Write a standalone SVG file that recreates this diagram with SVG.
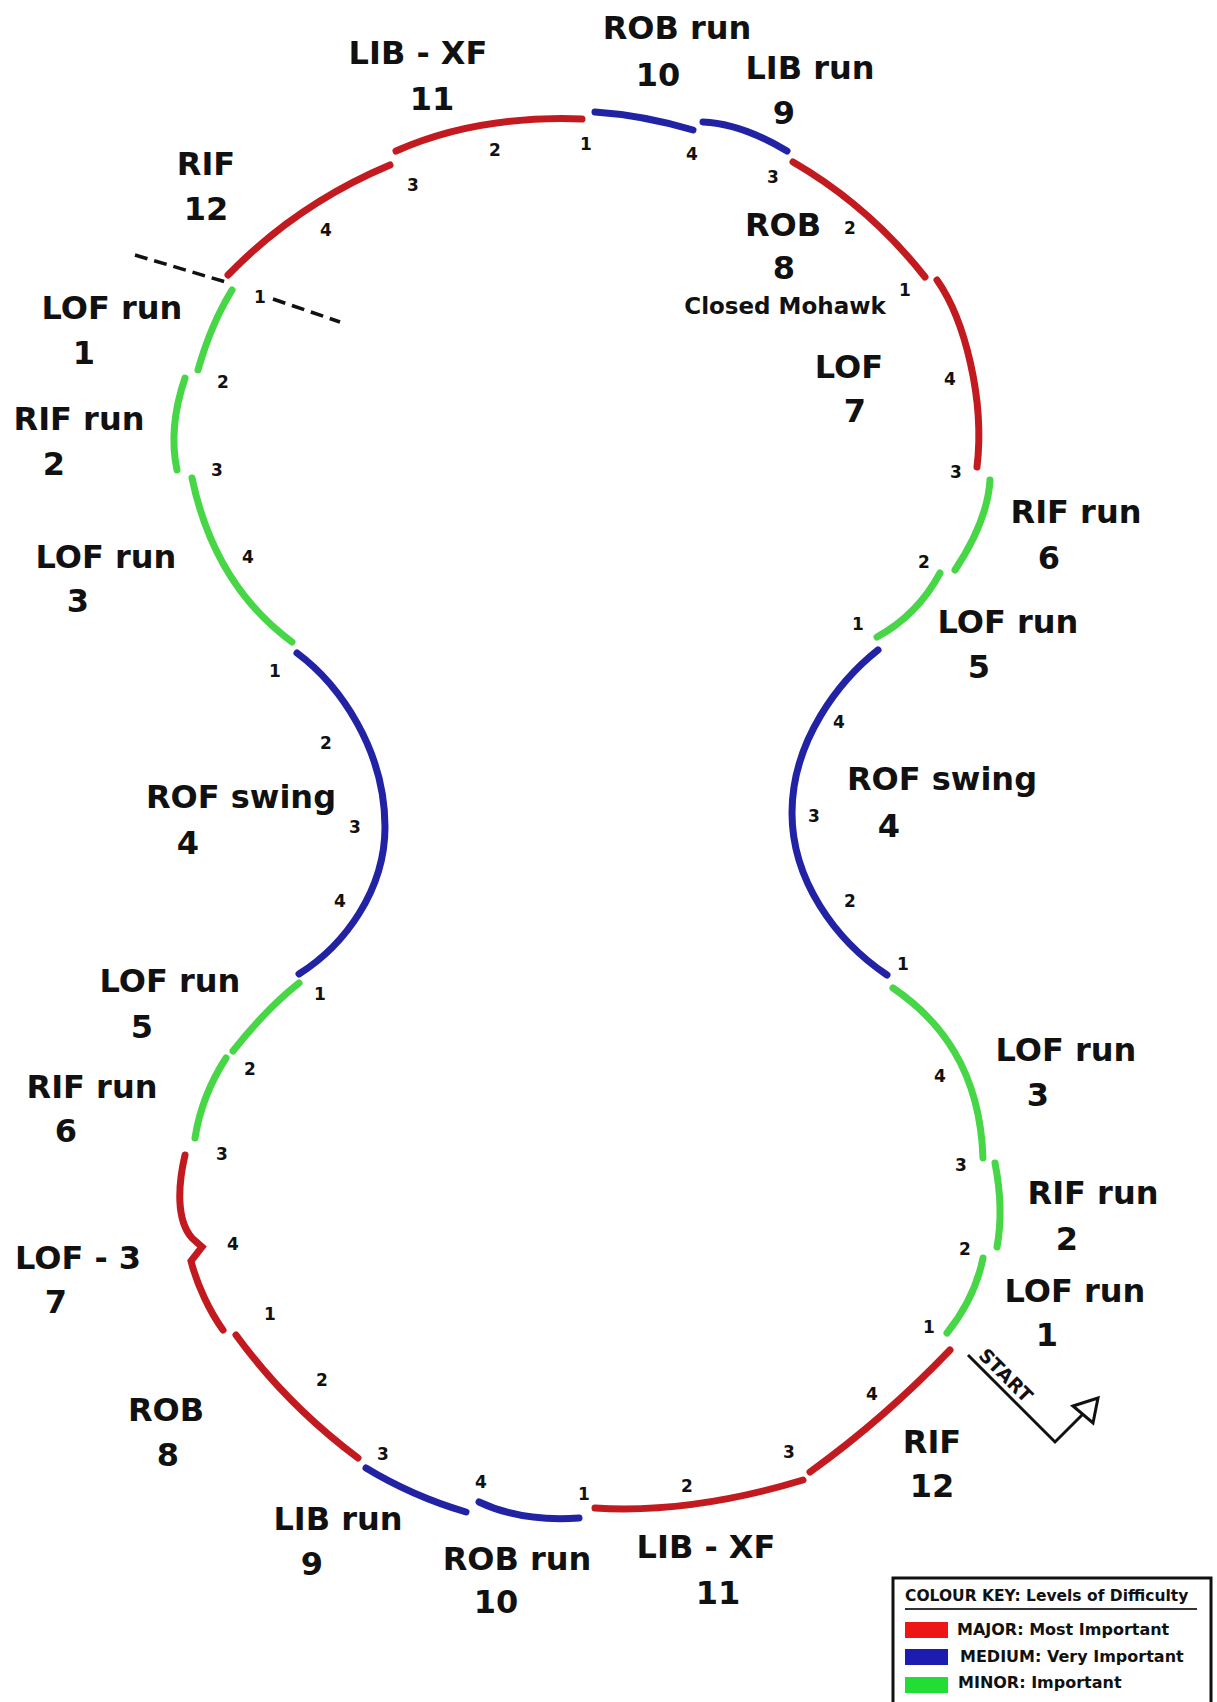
<svg xmlns="http://www.w3.org/2000/svg" width="1217" height="1702" viewBox="0 0 1217 1702">
<style>
.seg{fill:none;stroke-width:7;stroke-linecap:round}
.r{stroke:#c21a1f}.b{stroke:#2222a4}.g{stroke:#46d646}
text{font-family:"DejaVu Sans",Verdana,sans-serif;font-weight:bold;fill:#111}
.lbl{font-size:32px;text-anchor:middle}
.beat{font-size:17px;text-anchor:middle}
.sub{font-size:23px;text-anchor:middle}
.key{font-size:16px}
</style>
<rect width="1217" height="1702" fill="#ffffff"/>
<g id="track">
  <path class="seg r" d="M228,275 Q297,204 390,165"/>
  <path class="seg r" d="M396,151 Q477,115 582,119"/>
  <path class="seg b" d="M595,112 Q642,115 693,130"/>
  <path class="seg b" d="M703,122 Q741,123.5 787,151"/>
  <path class="seg r" d="M793,162 Q869,206 925,277"/>
  <path class="seg r" d="M937,280 C965,320 985,400 977,467"/>
  <path class="seg g" d="M990,480 Q987.5,521 955,570"/>
  <path class="seg g" d="M940,573 Q917.5,615 877,637"/>
  <path class="seg b" d="M878,650 C840,680 792,740 792,813 C792,880 835,940 887,975"/>
  <path class="seg g" d="M893,988 C940,1020 980,1070 983,1158"/>
  <path class="seg g" d="M995,1163 Q1004,1209 997,1247"/>
  <path class="seg g" d="M983,1258 Q975,1298 947,1333"/>
  <path class="seg r" d="M950,1350 Q885,1418 810,1472"/>
  <path class="seg r" d="M803,1480 Q691,1514 595,1508"/>
  <path class="seg b" d="M579,1518 Q521,1522 479,1502"/>
  <path class="seg b" d="M466,1512 Q412,1496 366,1468"/>
  <path class="seg r" d="M358,1458 Q287,1405 236,1335"/>
  <path class="seg r" d="M223,1330 C210,1312 197,1285 191,1261 L202,1247 L192,1238 C176,1220 178,1185 185,1155"/>
  <path class="seg g" d="M195,1138 Q201.5,1096 226,1058"/>
  <path class="seg g" d="M233,1051 Q266,1009 299,983"/>
  <path class="seg b" d="M299,974 C345,945 385,890 385,827 C385,750 340,685 297,653"/>
  <path class="seg g" d="M292,642 C235,600 205,540 192,478"/>
  <path class="seg g" d="M177,470 Q168,428 185,378"/>
  <path class="seg g" d="M198,370 Q211,324 232,290"/>
</g>
<g id="connectors">
  <g id="start-line" fill="none" stroke="#111" stroke-width="3.5" stroke-dasharray="13 7">
    <line x1="135" y1="255" x2="229" y2="283"/>
    <line x1="273" y1="299" x2="340" y2="322"/>
  </g>
  <g id="start-arrow">
    <polyline points="968,1355 1055,1442 1083,1414" fill="none" stroke="#111" stroke-width="3"/>
    <polygon points="1073,1406 1098,1398 1093,1423" fill="#fff" stroke="#111" stroke-width="3" stroke-linejoin="miter"/>
    <text transform="translate(1001,1380) rotate(45)" style="font-size:19px;text-anchor:middle">START</text>
  </g>
</g>
<g id="labels">
  <g id="n-rob-run-10-top"><text class="lbl" x="677" y="39">ROB run</text><text class="lbl" x="658" y="86">10</text></g>
  <g id="n-lib-run-9-top"><text class="lbl" x="810" y="79">LIB run</text><text class="lbl" x="784" y="124">9</text></g>
  <g id="n-lib-xf-11-top"><text class="lbl" x="418" y="64">LIB - XF</text><text class="lbl" x="432" y="110">11</text></g>
  <g id="n-rif-12-top"><text class="lbl" x="206" y="175">RIF</text><text class="lbl" x="206" y="220">12</text></g>
  <g id="n-rob-8-top"><text class="lbl" x="783" y="236">ROB</text><text class="lbl" x="784" y="279">8</text><text class="sub" x="785" y="314">Closed Mohawk</text></g>
  <g id="n-lof-run-1-left"><text class="lbl" x="112" y="319">LOF run</text><text class="lbl" x="84" y="364">1</text></g>
  <g id="n-lof-7-right"><text class="lbl" x="849" y="378">LOF</text><text class="lbl" x="855" y="422">7</text></g>
  <g id="n-rif-run-2-left"><text class="lbl" x="79" y="430">RIF run</text><text class="lbl" x="54" y="475">2</text></g>
  <g id="n-rif-run-6-right"><text class="lbl" x="1076" y="523">RIF run</text><text class="lbl" x="1049" y="569">6</text></g>
  <g id="n-lof-run-3-left"><text class="lbl" x="106" y="568">LOF run</text><text class="lbl" x="78" y="612">3</text></g>
  <g id="n-lof-run-5-right"><text class="lbl" x="1008" y="633">LOF run</text><text class="lbl" x="979" y="678">5</text></g>
  <g id="n-rof-swing-4-left"><text class="lbl" x="241" y="808">ROF swing</text><text class="lbl" x="188" y="854">4</text></g>
  <g id="n-rof-swing-4-right"><text class="lbl" x="942" y="790">ROF swing</text><text class="lbl" x="889" y="837">4</text></g>
  <g id="n-lof-run-5-left"><text class="lbl" x="170" y="992">LOF run</text><text class="lbl" x="142" y="1038">5</text></g>
  <g id="n-lof-run-3-right"><text class="lbl" x="1066" y="1061">LOF run</text><text class="lbl" x="1038" y="1106">3</text></g>
  <g id="n-rif-run-6-left"><text class="lbl" x="92" y="1098">RIF run</text><text class="lbl" x="66" y="1142">6</text></g>
  <g id="n-rif-run-2-right"><text class="lbl" x="1093" y="1204">RIF run</text><text class="lbl" x="1067" y="1250">2</text></g>
  <g id="n-lof-3-7-left"><text class="lbl" x="78" y="1269">LOF - 3</text><text class="lbl" x="56" y="1313">7</text></g>
  <g id="n-lof-run-1-right"><text class="lbl" x="1075" y="1302">LOF run</text><text class="lbl" x="1047" y="1346">1</text></g>
  <g id="n-rob-8-bottom"><text class="lbl" x="166" y="1421">ROB</text><text class="lbl" x="168" y="1466">8</text></g>
  <g id="n-rif-12-bottom"><text class="lbl" x="932" y="1453">RIF</text><text class="lbl" x="932" y="1497">12</text></g>
  <g id="n-lib-run-9-bottom"><text class="lbl" x="338" y="1530">LIB run</text><text class="lbl" x="312" y="1575">9</text></g>
  <g id="n-rob-run-10-bottom"><text class="lbl" x="517" y="1570">ROB run</text><text class="lbl" x="496" y="1613">10</text></g>
  <g id="n-lib-xf-11-bottom"><text class="lbl" x="706" y="1558">LIB - XF</text><text class="lbl" x="718" y="1604">11</text></g>
</g>
<g id="beats">
  <text class="beat" x="586" y="150">1</text>
  <text class="beat" x="495" y="156">2</text>
  <text class="beat" x="413" y="191">3</text>
  <text class="beat" x="692" y="160">4</text>
  <text class="beat" x="773" y="183">3</text>
  <text class="beat" x="326" y="236">4</text>
  <text class="beat" x="850" y="234">2</text>
  <text class="beat" x="905" y="296">1</text>
  <text class="beat" x="950" y="385">4</text>
  <text class="beat" x="956" y="478">3</text>
  <text class="beat" x="924" y="568">2</text>
  <text class="beat" x="858" y="630">1</text>
  <text class="beat" x="839" y="728">4</text>
  <text class="beat" x="814" y="822">3</text>
  <text class="beat" x="850" y="907">2</text>
  <text class="beat" x="903" y="970">1</text>
  <text class="beat" x="940" y="1082">4</text>
  <text class="beat" x="961" y="1171">3</text>
  <text class="beat" x="965" y="1255">2</text>
  <text class="beat" x="929" y="1333">1</text>
  <text class="beat" x="872" y="1400">4</text>
  <text class="beat" x="789" y="1458">3</text>
  <text class="beat" x="687" y="1492">2</text>
  <text class="beat" x="584" y="1500">1</text>
  <text class="beat" x="481" y="1488">4</text>
  <text class="beat" x="383" y="1460">3</text>
  <text class="beat" x="322" y="1386">2</text>
  <text class="beat" x="270" y="1320">1</text>
  <text class="beat" x="233" y="1250">4</text>
  <text class="beat" x="222" y="1160">3</text>
  <text class="beat" x="250" y="1075">2</text>
  <text class="beat" x="320" y="1000">1</text>
  <text class="beat" x="340" y="907">4</text>
  <text class="beat" x="355" y="833">3</text>
  <text class="beat" x="326" y="749">2</text>
  <text class="beat" x="275" y="677">1</text>
  <text class="beat" x="248" y="563">4</text>
  <text class="beat" x="217" y="476">3</text>
  <text class="beat" x="223" y="388">2</text>
  <text class="beat" x="260" y="303">1</text>
</g>
<g id="legend">
  <rect x="893" y="1578" width="318" height="140" fill="#fff" stroke="#111" stroke-width="3"/>
  <text x="905" y="1601" style="font-size:15.5px">COLOUR KEY: Levels of Difficulty</text>
  <line x1="905" y1="1609" x2="1197" y2="1609" stroke="#333" stroke-width="2"/>
  <rect x="905" y="1622" width="43" height="16" fill="#ee1515"/>
  <text class="key" x="957" y="1635">MAJOR: Most Important</text>
  <rect x="905" y="1649" width="43" height="16" fill="#1c1cb0"/>
  <text class="key" x="960" y="1662">MEDIUM: Very Important</text>
  <rect x="905" y="1677" width="43" height="16" fill="#22dd33"/>
  <text class="key" x="958" y="1688">MINOR: Important</text>
</g>
</svg>
